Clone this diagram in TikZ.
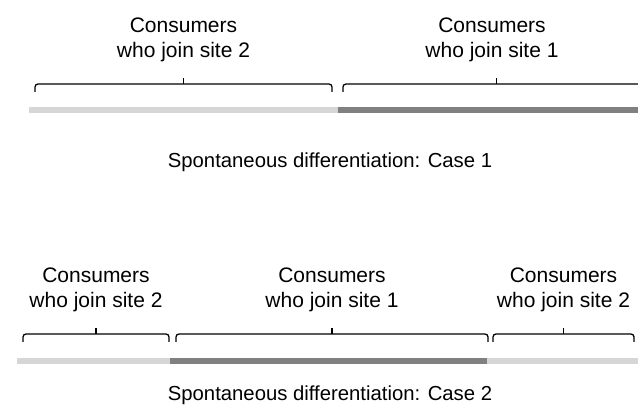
\documentclass[tikz,border=0pt]{standalone}
\usepackage{fontspec}
\setmainfont{Liberation Sans}
\usetikzlibrary{positioning}
\definecolor{lightbar}{RGB}{214,214,214}
\definecolor{darkbar}{RGB}{128,128,128}
% brace over a segment: left x, right x, height of the line
\newcommand{\sitebrace}[3]{%
  \draw[brace] (#1,#3+8) |- (#2,#3) -- (#2,#3+8);
  \draw[brace] ({(#1+#2)/2},#3) -- ++(0,-6);}

\begin{document}
\begin{tikzpicture}[x=1pt,y=-1pt,
		lab/.style={align=center,inner sep=0pt,font=\fontsize{21}{25}\selectfont},
		caption/.style={inner sep=0pt,anchor=base,font=\fontsize{20.3}{25}\selectfont},
		bar/.style={line width=6pt},
		site1/.style={bar,draw=darkbar},
		site2/.style={bar,draw=lightbar},
		brace/.style={line width=1.3pt,rounded corners=3pt}]
		\useasboundingbox (0,0) rectangle (638,406);
		\clip (0,0) rectangle (638,406);
		% Case 1
		\coordinate (a0) at (29,110);
		\coordinate (a1) at (338,110);
		\coordinate (a2) at (650,110);
		\draw[site2] (a0) -- (a1);
		\draw[site1] (a1) -- (a2);
		\sitebrace{35}{332}{84}
		\sitebrace{343}{650}{84}
		\node[lab] (c1) at (183.5,40.3) {Consumers\\who join site 2};
		\node[lab] (c2) at (492,40.3) {Consumers\\who join site 1};
		\node[caption] (k1) at (330,168) {Spontaneous differentiation: Case 1};
		
		% Case 2
		\coordinate (b0) at (17,361);
		\coordinate (b1) at (170,361);
		\coordinate (b2) at (487,361);
		\coordinate (b3) at (638,361);
		\draw[site2] (b0) -- (b1);
		\draw[site1] (b1) -- (b2);
		\draw[site2] (b2) -- (b3);
		\sitebrace{23}{169}{334}
		\sitebrace{176}{488}{334}
		\sitebrace{493}{634}{334}
		\node[lab] (d1) at (96,290.3) {Consumers\\who join site 2};
		\node[lab] (d2) at (332,290.3) {Consumers\\who join site 1};
		\node[lab] (d3) at (563.5,290.3) {Consumers\\who join site 2};
		\node[caption] (k2) at (330,400) {Spontaneous differentiation: Case 2};
\end{tikzpicture}
\end{document}
